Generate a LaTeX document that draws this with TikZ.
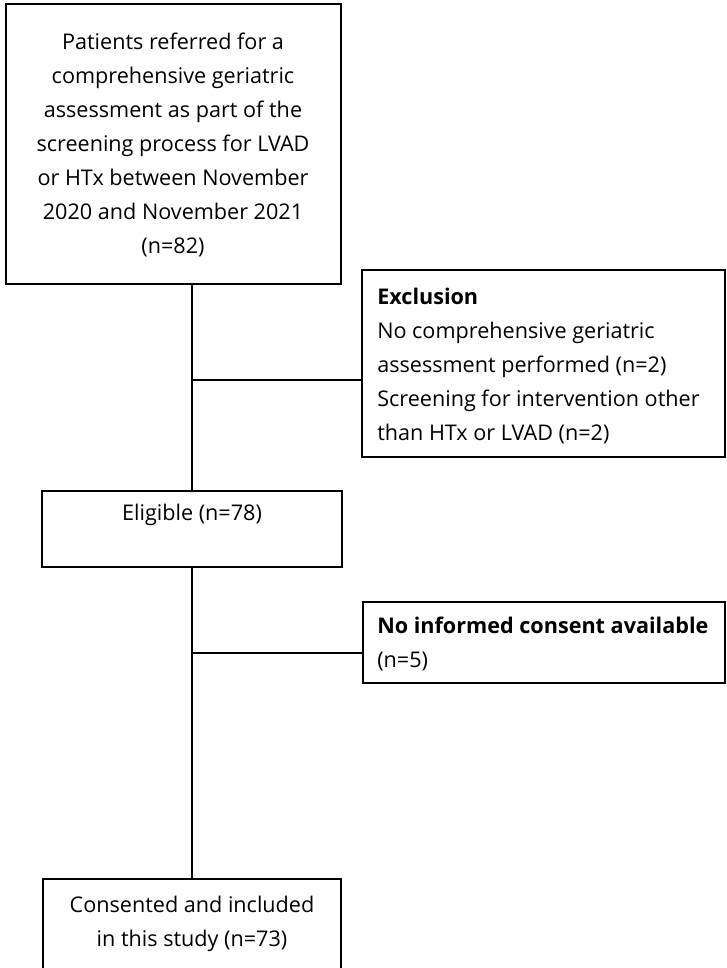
\documentclass[tikz,border=0pt]{standalone}
\usepackage{fontspec}
\setmainfont{Open Sans}
\usetikzlibrary{positioning}

\tikzset{
  box/.style={draw, line width=0.8pt, inner sep=0pt, outer sep=0pt, anchor=north west},
  txt/.style={font=\fontsize{16.2}{25.5}\selectfont, inner sep=0pt},
  link/.style={line width=0.8pt},
}

\begin{document}
\begin{tikzpicture}[x=0.75pt, y=-0.75pt]
  \useasboundingbox (0,0) rectangle (726,968);

  % Boxes (pixel grid, y grows downwards)
  \node[box, minimum width=251.25pt, minimum height=210pt]   (referred)  at (6,4)     {};
  \node[box, minimum width=272.25pt, minimum height=140.25pt] (exclusion) at (362,270) {};
  \node[box, minimum width=225pt,    minimum height=57pt]     (eligible)  at (42,491)  {};
  \node[box, minimum width=271.5pt,  minimum height=60.75pt]  (consent)   at (363,602) {};
  \node[box, minimum width=223.5pt,  minimum height=92pt]     (included)  at (43,879)  {};

  % Texts
  \node[txt, align=center] (referredtxt) at (173,145)
    {Patients referred for a\\comprehensive geriatric\\assessment as part of the\\screening process for LVAD\\or HTx between November\\2020 and November 2021\\(n=82)};
  \node[txt, align=left, anchor=west] (exclusiontxt) at (377,366)
    {\textbf{Exclusion}\\No comprehensive geriatric\\assessment performed (n=2)\\Screening for intervention other\\than HTx or LVAD (n=2)};
  \node[txt] (eligibletxt) at (192,515) {Eligible (n=78)};
  \node[txt, align=left, anchor=west] (consenttxt) at (377,644)
    {\textbf{No informed consent available}\\(n=5)};
  \node[txt, align=center] (includedtxt) at (192,924)
    {Consented and included\\in this study (n=73)};

  % Junctions on the main line
  \coordinate (j1) at (192,380);
  \coordinate (j2) at (192,653);

  % Connectors
  \draw[link] (referred.south -| eligible.north) -- (eligible.north);
  \draw[link] (eligible.south) -- (included.north);
  \draw[link] (j1) -- (j1 -| exclusion.west);
  \draw[link] (j2) -- (j2 -| consent.west);
\end{tikzpicture}
\end{document}
